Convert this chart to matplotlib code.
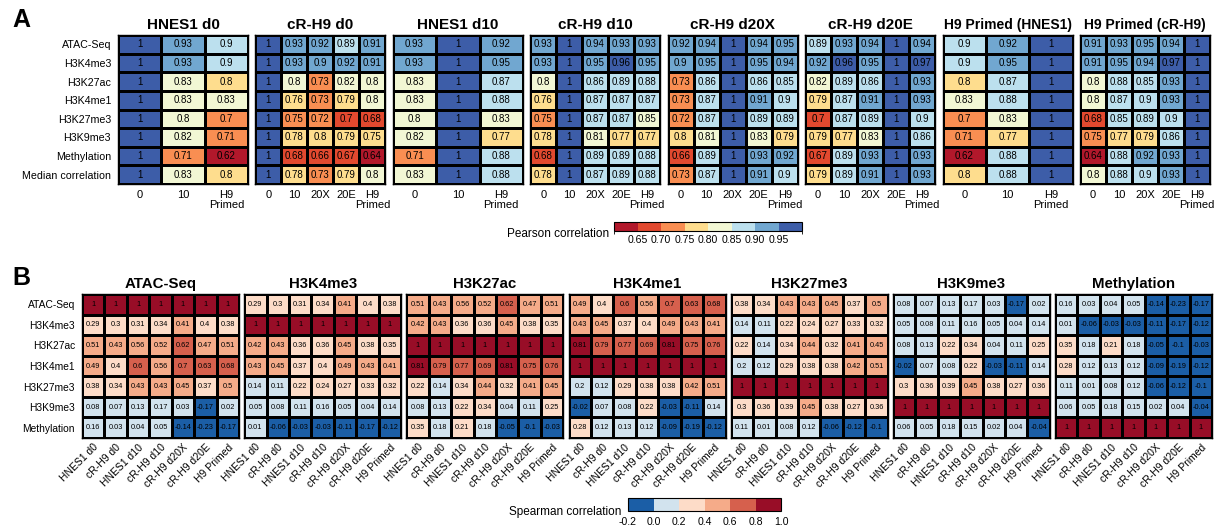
import matplotlib
matplotlib.use("Agg")
import matplotlib.pyplot as plt
import matplotlib.cm as cm
import numpy as np
from matplotlib.colors import ListedColormap, BoundaryNorm

plt.rcParams["font.family"] = ["Liberation Sans", "DejaVu Sans"]

W, H = 1222, 531

# ---- panel A: Pearson correlation between time points, per mark ----
pearson_rows = ["ATAC-Seq", "H3K4me3", "H3K27ac", "H3K4me1", "H3K27me3",
                "H3K9me3", "Methylation", "Median correlation"]
cols3 = ["0", "10", "H9\nPrimed"]
cols5 = ["0", "10", "20X", "20E", "H9\nPrimed"]

pearson_titles = ["HNES1 d0", "cR-H9 d0", "HNES1 d10", "cR-H9 d10",
                  "cR-H9 d20X", "cR-H9 d20E", "H9 Primed (HNES1)", "H9 Primed (cR-H9)"]

hnes1_d0 = [[1, .93, .898], [1, .93, .898], [1, .83, .798], [1, .83, .83],
            [1, .802, .702], [1, .82, .71], [1, .71, .62], [1, .83, .798]]
crh9_d0 = [[1, .93, .92, .89, .91], [1, .93, .902, .92, .91],
           [1, .802, .73, .82, .802], [1, .76, .73, .79, .802],
           [1, .748, .72, .698, .68], [1, .78, .798, .79, .752],
           [1, .68, .66, .67, .64], [1, .78, .73, .79, .802]]
hnes1_d10 = [[.93, 1, .92], [.93, 1, .948], [.83, 1, .87], [.83, 1, .88],
             [.802, 1, .83], [.82, 1, .77], [.71, 1, .88], [.83, 1, .88]]
crh9_d10 = [[.93, 1, .94, .93, .93], [.93, 1, .948, .96, .948],
            [.802, 1, .86, .89, .88], [.76, 1, .87, .87, .87],
            [.748, 1, .87, .87, .848], [.78, 1, .81, .77, .77],
            [.68, 1, .89, .89, .88], [.78, 1, .87, .89, .88]]
crh9_d20x = [[.92, .94, 1, .94, .948], [.902, .948, 1, .948, .94],
             [.73, .86, 1, .86, .852], [.73, .87, 1, .91, .898],
             [.72, .87, 1, .89, .89], [.798, .81, 1, .83, .79],
             [.66, .89, 1, .93, .92], [.73, .87, 1, .91, .898]]
crh9_d20e = [[.89, .93, .94, 1, .94], [.92, .96, .948, 1, .97],
             [.82, .89, .86, 1, .93], [.79, .87, .91, 1, .93],
             [.698, .87, .89, 1, .898], [.79, .77, .83, 1, .86],
             [.67, .89, .93, 1, .93], [.79, .89, .91, 1, .93]]
h9p_hnes1 = [[.898, .92, 1], [.898, .948, 1], [.798, .87, 1], [.83, .88, 1],
             [.702, .83, 1], [.71, .77, 1], [.62, .88, 1], [.798, .88, 1]]
h9p_crh9 = [[.91, .93, .948, .94, 1], [.91, .948, .94, .97, 1],
            [.802, .88, .852, .93, 1], [.802, .87, .898, .93, 1],
            [.68, .852, .89, .898, 1], [.748, .77, .79, .86, 1],
            [.64, .88, .92, .93, 1], [.802, .88, .898, .93, 1]]

pearson_data = [hnes1_d0, crh9_d0, hnes1_d10, crh9_d10,
                crh9_d20x, crh9_d20e, h9p_hnes1, h9p_crh9]

# ---- panel B: Spearman correlation between marks, per sample ----
marks = ["ATAC-Seq", "H3K4me3", "H3K27ac", "H3K4me1", "H3K27me3", "H3K9me3", "Methylation"]
samples = ["HNES1 d0", "cR-H9 d0", "HNES1 d10", "cR-H9 d10",
           "cR-H9 d20X", "cR-H9 d20E", "H9 Primed"]

sp_atac = [[1, 1, 1, 1, 1, 1, 1],
           [.29, .3, .31, .34, .41, .398, .38],
           [.51, .43, .56, .52, .62, .47, .51],
           [.49, .398, .602, .56, .7, .63, .68],
           [.38, .34, .43, .43, .45, .37, .5],
           [.08, .07, .13, .17, .03, -.17, .02],
           [.16, .03, .04, .05, -.14, -.23, -.17]]
sp_h3k4me3 = [[.29, .3, .31, .34, .41, .398, .38],
              [1, 1, 1, 1, 1, 1, 1],
              [.42, .43, .36, .36, .45, .38, .35],
              [.43, .45, .37, .398, .49, .43, .41],
              [.14, .11, .22, .24, .27, .33, .32],
              [.05, .08, .11, .16, .05, .04, .14],
              [.01, -.06, -.03, -.03, -.11, -.17, -.12]]
sp_h3k27ac = [[.51, .43, .56, .52, .62, .47, .51],
              [.42, .43, .36, .36, .45, .38, .35],
              [1, 1, 1, 1, 1, 1, 1],
              [.81, .79, .77, .69, .81, .75, .76],
              [.22, .14, .34, .44, .32, .41, .45],
              [.08, .13, .22, .34, .04, .11, .25],
              [.35, .18, .21, .18, -.05, -.1, -.03]]
sp_h3k4me1 = [[.49, .398, .602, .56, .7, .63, .68],
              [.43, .45, .37, .398, .49, .43, .41],
              [.81, .79, .77, .69, .81, .75, .76],
              [1, 1, 1, 1, 1, 1, 1],
              [.198, .12, .29, .38, .38, .42, .51],
              [-.02, .07, .08, .22, -.03, -.11, .14],
              [.28, .12, .13, .12, -.09, -.19, -.12]]
sp_h3k27me3 = [[.38, .34, .43, .43, .45, .37, .5],
               [.14, .11, .22, .24, .27, .33, .32],
               [.22, .14, .34, .44, .32, .41, .45],
               [.198, .12, .29, .38, .38, .42, .51],
               [1, 1, 1, 1, 1, 1, 1],
               [.3, .36, .39, .45, .38, .27, .36],
               [.11, .01, .08, .12, -.06, -.12, -.1]]
sp_h3k9me3 = [[.08, .07, .13, .17, .03, -.17, .02],
              [.05, .08, .11, .16, .05, .04, .14],
              [.08, .13, .22, .34, .04, .11, .25],
              [-.02, .07, .08, .22, -.03, -.11, .14],
              [.3, .36, .39, .45, .38, .27, .36],
              [1, 1, 1, 1, 1, 1, 1],
              [.06, .05, .18, .15, .02, .04, -.04]]
sp_methylation = [[.16, .03, .04, .05, -.14, -.23, -.17],
                  [.01, -.06, -.03, -.03, -.11, -.17, -.12],
                  [.35, .18, .21, .18, -.05, -.1, -.03],
                  [.28, .12, .13, .12, -.09, -.19, -.12],
                  [.11, .01, .08, .12, -.06, -.12, -.1],
                  [.06, .05, .18, .15, .02, .04, -.04],
                  [1, 1, 1, 1, 1, 1, 1]]

spearman_data = [sp_atac, sp_h3k4me3, sp_h3k27ac, sp_h3k4me1,
                 sp_h3k27me3, sp_h3k9me3, sp_methylation]

# colour scales (binned)
p_colors = ["#B2182B", "#E2492F", "#F98E52", "#FEDD8E",
            "#F2F7D4", "#BCE0EE", "#71A7D0", "#3D5DA8"]
p_bounds = [0.6, 0.65, 0.7, 0.75, 0.8, 0.85, 0.9, 0.95, 1.0]
s_colors = ["#1B5EA6", "#D2E3EE", "#FDDCC8", "#F5AB89", "#D6604D", "#980D27"]
s_bounds = [-0.2, 0.0, 0.2, 0.4, 0.6, 0.8, 1.0]

p_cmap = ListedColormap(p_colors)
p_norm = BoundaryNorm(p_bounds, len(p_colors), clip=True)
s_cmap = ListedColormap(s_colors)
s_norm = BoundaryNorm(s_bounds, len(s_colors), clip=True)


def box(x0, y0, x1, y1):
    return [x0 / W, 1 - y1 / H, (x1 - x0) / W, (y1 - y0) / H]


def label(v):
    return f"{round(v, 2):g}"


def heatmap(ax, data, cmap, norm, fs):
    arr = np.array(data, dtype=float)
    nr, nc = arr.shape
    ax.pcolormesh(arr, cmap=cmap, norm=norm, edgecolors="black", linewidth=0.8)
    ax.set_xlim(0, nc)
    ax.set_ylim(nr, 0)
    for r in range(nr):
        for c in range(nc):
            ax.text(c + 0.5, r + 0.5, label(arr[r, c]), ha="center", va="center",
                    fontsize=fs, color="black")
    for s in ax.spines.values():
        s.set_linewidth(1.0)
    ax.tick_params(length=0)


fig = plt.figure(figsize=(W / 100, H / 100), dpi=100)

# panel A
pitch_a = (1210 - 118 - 130) / 7
for i, (title, data) in enumerate(zip(pearson_titles, pearson_data)):
    x0 = 118 + i * pitch_a
    ax = fig.add_axes(box(x0, 35, x0 + 130, 184))
    heatmap(ax, data, p_cmap, p_norm, 7)
    ncol = len(data[0])
    ax.set_xticks(np.arange(ncol) + 0.5)
    ax.set_xticklabels(cols3 if ncol == 3 else cols5, fontsize=8, linespacing=1.1)
    ax.tick_params(axis="x", pad=4)
    ax.set_yticks(np.arange(len(pearson_rows)) + 0.5)
    if i == 0:
        ax.set_yticklabels(pearson_rows, fontsize=7.7)
        ax.tick_params(axis="y", pad=5)
    else:
        ax.set_yticklabels([])
    ax.set_title(title, fontsize=11 if len(title) < 12 else 10,
                 fontweight="bold", pad=4)

# panel B
pitch_b = (1212 - 82 - 157) / 6
for i, (title, data) in enumerate(zip(marks, spearman_data)):
    x0 = 82 + i * pitch_b
    ax = fig.add_axes(box(x0, 294, x0 + 157, 438))
    heatmap(ax, data, s_cmap, s_norm, 5.3)
    ax.set_xticks(np.arange(len(samples)) + 0.5)
    ax.set_xticklabels(samples, fontsize=7.5, rotation=45, ha="right",
                       rotation_mode="anchor")
    ax.tick_params(axis="x", pad=3)
    ax.set_yticks(np.arange(len(marks)) + 0.5)
    if i == 0:
        ax.set_yticklabels(marks, fontsize=7.4)
        ax.tick_params(axis="y", pad=5)
    else:
        ax.set_yticklabels([])
    ax.set_title(title, fontsize=10.8, fontweight="bold", pad=4)

# colour bars
cax_a = fig.add_axes(box(614, 222, 802, 231))
cb_a = fig.colorbar(cm.ScalarMappable(norm=p_norm, cmap=p_cmap), cax=cax_a,
                    orientation="horizontal", ticks=p_bounds[1:-1])
cb_a.ax.set_xticklabels([f"{b:.2f}" for b in p_bounds[1:-1]], fontsize=7.6)
cb_a.ax.tick_params(length=0, pad=3)
cb_a.outline.set_linewidth(0.8)
fig.text(609 / W, 1 - 234 / H, "Pearson correlation", ha="right", va="center", fontsize=8.5)

cax_b = fig.add_axes(box(628, 498, 781, 511))
cb_b = fig.colorbar(cm.ScalarMappable(norm=s_norm, cmap=s_cmap), cax=cax_b,
                    orientation="horizontal", ticks=s_bounds)
cb_b.ax.set_xticklabels([f"{b:.1f}" for b in s_bounds], fontsize=7.6)
cb_b.ax.tick_params(length=0, pad=4)
cb_b.outline.set_linewidth(0.8)
fig.text(621 / W, 1 - 512 / H, "Spearman correlation", ha="right", va="center", fontsize=8.5)

fig.text(12 / W, 1 - 27 / H, "A", fontsize=18, fontweight="bold", va="baseline")
fig.text(12 / W, 1 - 285 / H, "B", fontsize=18, fontweight="bold", va="baseline")

fig.savefig("out.png", dpi=100)
